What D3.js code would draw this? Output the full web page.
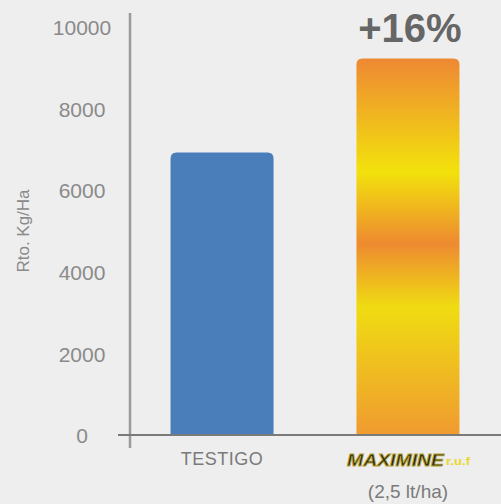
<!DOCTYPE html>
<html>
<head>
<meta charset="utf-8">
<script src="https://cdn.jsdelivr.net/npm/d3@7"></script>
<style>
  body { margin: 0; background: #eeeeee; }
  svg { display: block; font-family: "Liberation Sans", Arial, sans-serif; }
</style>
</head>
<body>
<div id="chart"></div>
<script>
// data
var categories = ["TESTIGO", "PRODUCTO"];
var values = [6950, 9250];
var yTicks = [0, 2000, 4000, 6000, 8000, 10000];
var diffLabel = "+16%";

var width = 501, height = 504;

var svg = d3.select("#chart").append("svg")
    .attr("width", width)
    .attr("height", height);

svg.append("rect")
    .attr("width", width)
    .attr("height", height)
    .attr("fill", "#eeeeee");

var y = d3.scaleLinear()
    .domain([0, 10000])
    .range([436, 28]);

var x = d3.scaleBand()
    .domain(categories)
    .range([130, 500])
    .paddingInner(0.446)
    .paddingOuter(0.218);

// gradient for the product bar
var defs = svg.append("defs");
var grad = defs.append("linearGradient")
    .attr("id", "prodGrad")
    .attr("x1", 0).attr("y1", 0)
    .attr("x2", 0).attr("y2", 1);
[[0, "#ee8833"], [0.3, "#f2e20c"], [0.49, "#ee8a30"], [0.66, "#efdc12"], [1, "#f09a30"]]
    .forEach(function (s) {
        grad.append("stop").attr("offset", s[0]).attr("stop-color", s[1]);
    });

// bars (rounded top only)
function barPath(d, i) {
    var x0 = x(categories[i]), w = x.bandwidth();
    var top = y(d), bottom = y(0), r = 6;
    return "M" + x0 + "," + bottom +
        "V" + (top + r) +
        "Q" + x0 + "," + top + " " + (x0 + r) + "," + top +
        "H" + (x0 + w - r) +
        "Q" + (x0 + w) + "," + top + " " + (x0 + w) + "," + (top + r) +
        "V" + bottom + "Z";
}

svg.selectAll("path.bar")
    .data(values)
    .enter().append("path")
    .attr("class", "bar")
    .attr("d", barPath)
    .attr("fill", function (d, i) {
        return i === 0 ? "#4a7ebb" : "url(#prodGrad)";
    });

// y axis
var yAxis = svg.append("g")
    .attr("transform", "translate(130,0)")
    .call(d3.axisLeft(y).tickValues(yTicks).tickSize(0).tickFormat(d3.format("d")));
yAxis.select(".domain").remove();
yAxis.selectAll("text")
    .attr("x", -48)
    .attr("text-anchor", "middle")
    .attr("fill", "#8a8a8a")
    .style("font-size", "21px");

svg.append("line")
    .attr("x1", 130).attr("x2", 130)
    .attr("y1", 13).attr("y2", 448)
    .attr("stroke", "#9a9a9a")
    .attr("stroke-width", 2.5);

svg.append("line")
    .attr("x1", 118).attr("x2", 501)
    .attr("y1", 435).attr("y2", 435)
    .attr("stroke", "#7a7a7a")
    .attr("stroke-width", 2);

svg.append("text")
    .attr("transform", "translate(29,231) rotate(-90)")
    .attr("text-anchor", "middle")
    .attr("fill", "#8a8a8a")
    .style("font-size", "17px")
    .text("Rto. Kg/Ha");

// category labels
svg.append("text")
    .attr("x", x(categories[0]) + x.bandwidth() / 2)
    .attr("y", 465)
    .attr("text-anchor", "middle")
    .attr("fill", "#7a7a7a")
    .style("font-size", "18px")
    .style("letter-spacing", "0.5px")
    .text(categories[0]);

var cx1 = x(categories[1]) + x.bandwidth() / 2;
svg.append("text")
    .attr("x", 347)
    .attr("y", 466)
    .style("font-size", "17px")
    .style("font-weight", "bold")
    .style("font-style", "italic")
    .attr("fill", "#2a2a10")
    .attr("stroke", "#b8a232")
    .attr("stroke-width", 0.8)
    .attr("textLength", 97)
    .attr("lengthAdjust", "spacingAndGlyphs")
    .text("MAXIMINE");
svg.append("text")
    .attr("x", 446)
    .attr("y", 465)
    .attr("fill", "#e8d828")
    .style("font-size", "10px")
    .style("font-weight", "bold")
    .attr("textLength", 24)
    .attr("lengthAdjust", "spacingAndGlyphs")
    .text("r.u.f");

svg.append("text")
    .attr("x", cx1)
    .attr("y", 498)
    .attr("text-anchor", "middle")
    .attr("fill", "#7a7a7a")
    .style("font-size", "19px")
    .text("(2,5 lt/ha)");

// percentage over product bar
svg.append("text")
    .attr("x", cx1 + 2)
    .attr("y", 42)
    .attr("text-anchor", "middle")
    .attr("fill", "#666")
    .style("font-size", "40px")
    .style("font-weight", "bold")
    .text(diffLabel);
</script>
</body>
</html>
